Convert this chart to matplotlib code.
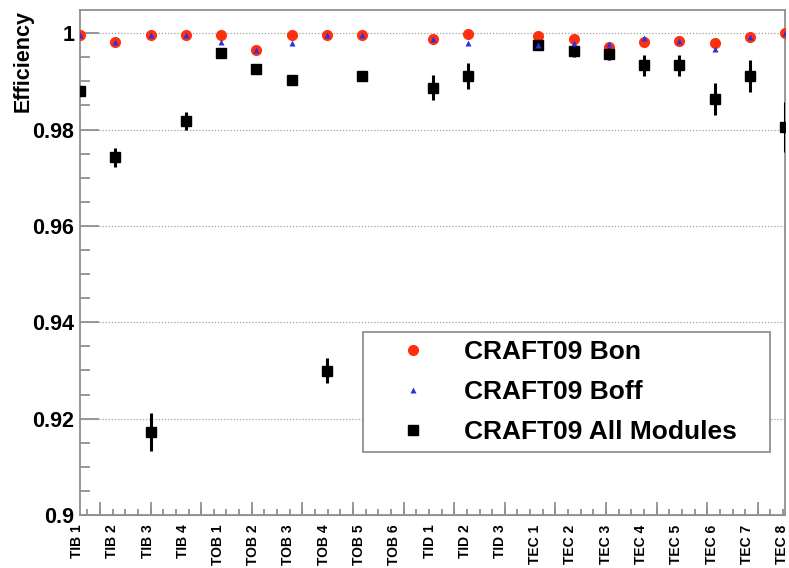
import numpy as np
import matplotlib.pyplot as plt
import matplotlib.transforms as mtransforms

plt.rcParams['font.family'] = ['Liberation Sans', 'DejaVu Sans']
plt.rcParams['font.weight'] = 'bold'

layers = ["TIB 1", "TIB 2", "TIB 3", "TIB 4",
          "TOB 1", "TOB 2", "TOB 3", "TOB 4", "TOB 5", "TOB 6",
          "TID 1", "TID 2", "TID 3",
          "TEC 1", "TEC 2", "TEC 3", "TEC 4", "TEC 5", "TEC 6", "TEC 7", "TEC 8"]

nan = np.nan
eff_bon = [0.9996, 0.9982, 0.9996, 0.9996, 0.9997, 0.9966, 0.9996, 0.9996, 0.9996, nan,
           0.9988, 0.9999, nan, 0.9994, 0.9988, 0.9972, 0.9981, 0.9984, 0.9979, 0.9992, 0.99995]
eff_boff = [0.9996, 0.9982, 0.9996, 0.9996, 0.9982, 0.9966, 0.9979, 0.9996, 0.9996, nan,
            0.9988, 0.9980, nan, 0.9976, 0.9979, 0.9977, 0.9990, 0.9984, 0.9967, 0.9992, 0.99995]
eff_all = [0.9880, 0.9742, 0.9172, 0.9817, 0.9958, 0.9926, 0.9903, 0.9299, 0.9911, nan,
           0.9887, 0.9911, nan, 0.9976, 0.9963, 0.9957, 0.9933, 0.9933, 0.9864, 0.9911, 0.9806]
err_all = [0.0010, 0.0019, 0.0039, 0.0019, 0.0004, 0.0004, 0.0004, 0.0026, 0.0004, nan,
           0.0026, 0.0026, nan, 0.0004, 0.0012, 0.0012, 0.0022, 0.0022, 0.0033, 0.0033, 0.0052]

x = np.arange(len(layers))

fig = plt.figure(figsize=(7.89, 5.68), dpi=100)
ax = fig.add_axes([80 / 789, 1 - 515 / 568, 705 / 789, 505 / 568])

gray = '#909090'
red = '#ff3010'
blue = '#3030e0'
h_bon, = ax.plot(x, eff_bon, 'o', color=red, ms=8, mec='none', label='CRAFT09 Bon', zorder=3)
ax.errorbar(x, eff_all, yerr=err_all, fmt='none', ecolor='black', elinewidth=2.2,
            capsize=0, zorder=4)
h_all, = ax.plot(x, eff_all, 's', color='black', ms=7, label='CRAFT09 All Modules', zorder=4)
h_boff, = ax.plot(x, eff_boff, '^', color=blue, ms=4, mec='none', label='CRAFT09 Boff', zorder=5)

ax.set_xlim(0, len(layers) - 1)
ax.set_ylim(0.9, 1.0048)

# y axis, ROOT style
ax.set_yticks([0.9, 0.92, 0.94, 0.96, 0.98, 1.0])
ax.set_yticklabels(['0.9', '0.92', '0.94', '0.96', '0.98', '1'])
ax.set_yticks(np.arange(0.9, 1.0049, 0.005), minor=True)
ax.tick_params(axis='y', which='major', direction='in', length=14, width=1.3,
               color=gray, labelsize=15.5, pad=4)
ax.tick_params(axis='y', which='minor', direction='in', length=7, width=1.3, color=gray)
ax.grid(axis='y', which='major', linestyle=(0, (1, 1.5)), color='#a0a0a0', linewidth=0.9)

# x axis: category labels without ticks, numeric-style ticks separately
ax.set_xticks(x)
ax.set_xticklabels(layers, rotation=90, fontsize=10, fontweight='bold')
ax.tick_params(axis='x', which='major', length=0, pad=7)
shift = mtransforms.ScaledTranslation(-3 / 100, 0, fig.dpi_scale_trans)
for lab in ax.get_xticklabels():
    lab.set_transform(lab.get_transform() + shift)
px = 705 / (len(layers) - 1)
minor_pos = (100 - 80 + 12.65 * np.arange(-1, 55)) / px
minor_pos = minor_pos[minor_pos <= len(layers) - 1]
ax.set_xticks(minor_pos, minor=True)
ax.tick_params(axis='x', which='minor', direction='in', length=4.5, width=1.3, color=gray)
sec = ax.secondary_xaxis('bottom')
sec.set_xticks(minor_pos[1::4])
sec.set_xticklabels([])
sec.tick_params(direction='in', length=9.5, width=1.3, color=gray)
sec.spines['bottom'].set_color(gray)

for s in ax.spines.values():
    s.set_color(gray)
    s.set_linewidth(1.3)

ax.set_ylabel('Efficiency', loc='top', fontsize=15.5, fontweight='bold')
ax.yaxis.set_label_coords(-0.066, 1.0)

leg = ax.legend([h_bon, h_boff, h_all],
                ['CRAFT09 Bon', 'CRAFT09 Boff', 'CRAFT09 All Modules'],
                loc='upper left', bbox_to_anchor=(363 / 789, 1 - 332 / 568, 407 / 789, 0.0),
                bbox_transform=fig.transFigure, mode='expand', fontsize=19,
                frameon=True, fancybox=False, edgecolor=gray, framealpha=1,
                borderpad=0.3, labelspacing=0.61, handlelength=3.2, handletextpad=0.32,
                borderaxespad=0)
leg.get_frame().set_linewidth(1.3)
for txt in leg.get_texts():
    txt.set_fontweight('bold')

fig.savefig('out.png', dpi=100)
